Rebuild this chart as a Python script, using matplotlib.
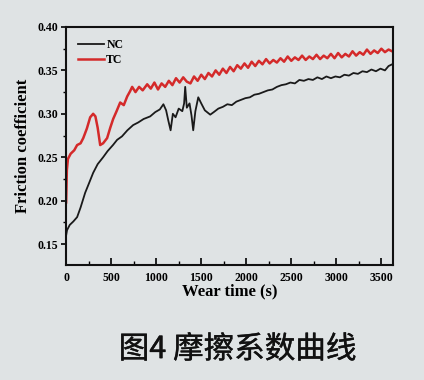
import matplotlib
matplotlib.use("Agg")
import matplotlib.pyplot as plt
import matplotlib.patheffects as pe
from matplotlib.ticker import MultipleLocator

# wear test: friction coefficient vs time
t_tc = [0, 8, 20, 50, 90, 122, 160, 190, 230, 267, 300, 325, 350, 378, 410, 455, 490, 522,
        560, 600, 640, 678, 710, 733, 770, 810, 850, 900, 940, 980, 1020, 1060, 1100, 1140,
        1180, 1220, 1260, 1300, 1340, 1380, 1420, 1460, 1500, 1540, 1580, 1620, 1660, 1700,
        1740, 1780, 1820, 1860, 1900, 1940, 1980, 2020, 2060, 2100, 2140, 2180, 2220, 2260,
        2300, 2340, 2380, 2420, 2460, 2500, 2540, 2580, 2620, 2660, 2700, 2740, 2780, 2820,
        2860, 2900, 2940, 2980, 3020, 3060, 3100, 3140, 3180, 3220, 3260, 3300, 3340, 3380,
        3420, 3460, 3500, 3540, 3580, 3620]
mu_tc = [0.198, 0.235, 0.248, 0.254, 0.258, 0.264, 0.266, 0.272, 0.283, 0.296, 0.300, 0.297,
         0.284, 0.264, 0.266, 0.272, 0.284, 0.294, 0.303, 0.313, 0.310, 0.320, 0.326, 0.331,
         0.325, 0.331, 0.327, 0.334, 0.329, 0.336, 0.328, 0.335, 0.331, 0.338, 0.333, 0.341,
         0.336, 0.342, 0.337, 0.335, 0.343, 0.338, 0.345, 0.340, 0.347, 0.343, 0.350, 0.345,
         0.352, 0.347, 0.354, 0.349, 0.356, 0.352, 0.358, 0.353, 0.360, 0.355, 0.361, 0.357,
         0.363, 0.358, 0.362, 0.359, 0.364, 0.360, 0.366, 0.361, 0.365, 0.362, 0.367, 0.362,
         0.366, 0.363, 0.368, 0.363, 0.367, 0.364, 0.369, 0.364, 0.370, 0.365, 0.369, 0.366,
         0.372, 0.367, 0.371, 0.368, 0.374, 0.369, 0.373, 0.370, 0.375, 0.371, 0.374, 0.372]

t_nc = [0, 10, 40, 80, 122, 160, 211, 250, 300, 350, 411, 460, 520, 566, 620, 680, 744, 800,
        860, 933, 990, 1040, 1080, 1110, 1135, 1160, 1185, 1215, 1250, 1290, 1310, 1322, 1340,
        1370, 1392, 1411, 1435, 1467, 1500, 1540, 1600, 1640, 1690, 1740, 1790, 1840, 1890,
        1940, 1990, 2040, 2090, 2140, 2190, 2240, 2290, 2340, 2390, 2440, 2490, 2540, 2590,
        2640, 2690, 2740, 2790, 2840, 2890, 2940, 2990, 3040, 3090, 3140, 3190, 3240, 3290,
        3340, 3390, 3440, 3490, 3540, 3580, 3620]
mu_nc = [0.160, 0.166, 0.172, 0.176, 0.181, 0.192, 0.209, 0.219, 0.232, 0.242, 0.250, 0.257,
         0.264, 0.270, 0.274, 0.281, 0.287, 0.290, 0.294, 0.297, 0.302, 0.305, 0.311, 0.304,
         0.292, 0.281, 0.300, 0.296, 0.306, 0.303, 0.312, 0.331, 0.307, 0.312, 0.298, 0.281,
         0.303, 0.319, 0.312, 0.304, 0.299, 0.302, 0.306, 0.308, 0.311, 0.310, 0.314, 0.316,
         0.318, 0.319, 0.322, 0.323, 0.325, 0.327, 0.328, 0.331, 0.333, 0.334, 0.336, 0.335,
         0.339, 0.338, 0.340, 0.339, 0.342, 0.340, 0.343, 0.341, 0.343, 0.342, 0.345, 0.344,
         0.347, 0.346, 0.349, 0.348, 0.351, 0.349, 0.352, 0.350, 0.355, 0.357]

bg = "#dfe3e4"
serif = "Liberation Serif"

fig = plt.figure(figsize=(4.24, 3.80), dpi=100, facecolor=bg)
ax = fig.add_axes([0.156, 0.303, 0.771, 0.626], facecolor=bg)

ax.plot(t_nc, mu_nc, color="#1a1a1a", lw=1.3, label="NC")
ax.plot(t_tc, mu_tc, color="#d42a2a", lw=1.8, label="TC")

ax.set_xlim(0, 3630)
ax.set_ylim(0.126, 0.40)
ax.xaxis.set_major_locator(MultipleLocator(500))
ax.xaxis.set_minor_locator(MultipleLocator(250))
ax.yaxis.set_major_locator(MultipleLocator(0.05))
ax.yaxis.set_minor_locator(MultipleLocator(0.025))
ax.tick_params(axis="x", which="major", direction="in", length=5, width=1.2, pad=5)
ax.tick_params(axis="x", which="minor", direction="in", length=3, width=1)
ax.tick_params(axis="y", which="major", direction="out", length=3.5, width=1.2, pad=2)
ax.tick_params(axis="y", which="minor", direction="out", length=2, width=1)
for s in ax.spines.values():
    s.set_linewidth(1.5)
    s.set_color("#111111")

for lab in ax.get_xticklabels() + ax.get_yticklabels():
    lab.set_fontfamily(serif)
    lab.set_fontweight("bold")
    lab.set_fontsize(8.5)
ax.yaxis.set_major_formatter(plt.FormatStrFormatter("%.2f"))

ax.set_xlabel("Wear time (s)", fontfamily=serif, fontweight="bold", fontsize=12, labelpad=0)
ax.set_ylabel("Friction coefficient", fontfamily=serif, fontweight="bold", fontsize=12, labelpad=5)

leg = ax.legend(loc="upper left", frameon=False, handlelength=2.2, handletextpad=0.2,
                labelspacing=0.3, borderaxespad=0.6,
                prop={"family": serif, "weight": "bold", "size": 8.5})

# caption, slightly heavier than regular
fig.text(0.56, 0.08, "图4 摩擦系数曲线", ha="center", va="center", fontsize=22,
         family=["Noto Sans CJK SC", "DejaVu Sans"], color="#111111",
         path_effects=[pe.withStroke(linewidth=0.3, foreground="#111111")])

fig.savefig("out.png", dpi=100, facecolor=bg)
